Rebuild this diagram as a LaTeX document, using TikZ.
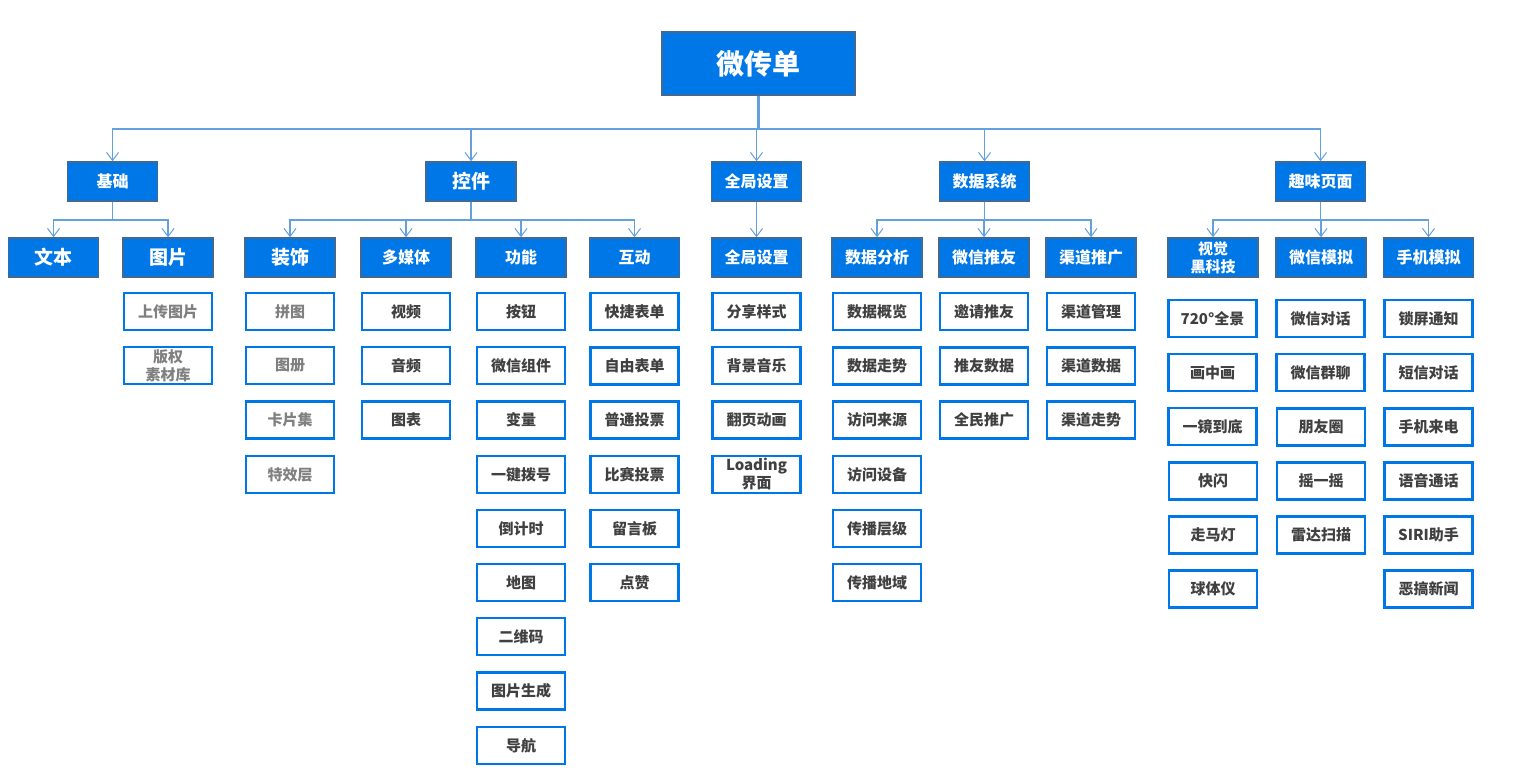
\documentclass[tikz,border=0pt]{standalone}
\usepackage{fontspec}
\setmainfont{Noto Sans CJK SC}
\usetikzlibrary{arrows.meta}
\definecolor{boxblue}{RGB}{0,119,230}
\definecolor{boxedge}{RGB}{65,105,150}
\definecolor{linkblue}{RGB}{100,160,220}
\definecolor{leaftext}{RGB}{64,64,64}
\definecolor{leafgray}{RGB}{128,128,128}
\tikzset{
  hdr/.style={draw=boxedge,line width=1.5pt,fill=boxblue,text=white,font=\bfseries\fontsize{16}{16}\selectfont,
    minimum width=90pt,minimum height=39pt,inner sep=0pt,align=center},
  bighdr/.style={hdr,font=\bfseries\fontsize{19}{19}\selectfont},
  rootbox/.style={hdr,minimum width=193pt,minimum height=63pt,font=\bfseries\fontsize{28}{28}\selectfont},
  leaf/.style={draw=boxblue,line width=2.2pt,fill=white,text=leaftext,font=\bfseries\fontsize{15}{18}\selectfont,
    minimum width=88pt,minimum height=37pt,inner sep=0pt,align=center},
  grayleaf/.style={leaf,text=leafgray},
  conn/.style={draw=linkblue,line width=1.1pt,-{Straight Barb[length=8pt,width=12pt,line width=1pt]}},
  trunk/.style={draw=linkblue,line width=1.1pt}
}
\begin{document}
\begin{tikzpicture}[x=1pt,y=-1pt]
\useasboundingbox (0,0) rectangle (1515,778);
% root
\node[rootbox] (root) at (758.5,63.5) {微传单};
% level 1
\node[hdr] (jc) at (112.5,181.5) {基础};
\node[bighdr] (kj) at (471,181.5) {控件};
\node[hdr] (qj) at (756.5,181.5) {全局设置};
\node[hdr] (sj) at (984.5,181.5) {数据系统};
\node[hdr] (qw) at (1320.5,181.5) {趣味页面};
% level 2
\node[bighdr] (wb) at (53.5,257.5) {文本};
\node[bighdr] (tp) at (168,257.5) {图片};
\node[bighdr] (zs) at (290,257.5) {装饰};
\node[hdr] (dmt) at (406,257.5) {多媒体};
\node[hdr] (gn) at (521,257.5) {功能};
\node[hdr] (hd) at (634.5,257.5) {互动};
\node[hdr] (qj2) at (756.5,257.5) {全局设置};
\node[hdr] (sjfx) at (877,257.5) {数据分析};
\node[hdr] (wxty) at (984,257.5) {微信推友};
\node[hdr] (qdtg) at (1091,257.5) {渠道推广};
\node[hdr,font=\bfseries\fontsize{15}{18}\selectfont] (sjhk) at (1213,257.5) {视觉\\黑科技};
\node[hdr] (wxmn) at (1321,257.5) {微信模拟};
\node[hdr] (sjmn) at (1428.5,257.5) {手机模拟};
% connectors root
\draw[trunk,line width=2.5pt] (root.south) -- (root.south |- 0,129);
\foreach \n in {jc,kj,qj,sj,qw}{
  \draw[conn] (root.south) -- (root.south |- 0,129) -| (\n.north);
}
\foreach \n in {wb,tp}{ \draw[conn] (jc.south) -- (jc.south |- 0,220) -| (\n.north); }
\foreach \n in {zs,dmt,gn,hd}{ \draw[conn] (kj.south) -- (kj.south |- 0,220) -| (\n.north); }
\draw[conn] (qj.south) -- (qj2.north);
\foreach \n in {sjfx,wxty,qdtg}{ \draw[conn] (sj.south) -- (sj.south |- 0,220) -| (\n.north); }
\foreach \n in {sjhk,wxmn,sjmn}{ \draw[conn] (qw.south) -- (qw.south |- 0,220) -| (\n.north); }
% leaves: 图片
\node[grayleaf] (tp1) at (168,311.5) {上传图片};
\node[grayleaf] (tp2) at (168,365.5) {版权\\素材库};
% 装饰
\node[grayleaf] (zs1) at (290,311.5) {拼图};
\node[grayleaf] (zs2) at (290,365.5) {图册};
\node[grayleaf] (zs3) at (290,420) {卡片集};
\node[grayleaf] (zs4) at (290,474.5) {特效层};
% 多媒体
\node[leaf] (dm1) at (406,311.5) {视频};
\node[leaf] (dm2) at (406,365.5) {音频};
\node[leaf] (dm3) at (406,420) {图表};
% 功能
\node[leaf] (gn1) at (521,311.5) {按钮};
\node[leaf] (gn2) at (521,365.5) {微信组件};
\node[leaf] (gn3) at (521,420) {变量};
\node[leaf] (gn4) at (521,474.5) {一键拨号};
\node[leaf] (gn5) at (521,528.5) {倒计时};
\node[leaf] (gn6) at (521,582.5) {地图};
\node[leaf] (gn7) at (521,636.5) {二维码};
\node[leaf] (gn8) at (521,691) {图片生成};
\node[leaf] (gn9) at (521,745.5) {导航};
% 互动
\node[leaf] (hd1) at (634.5,311.5) {快捷表单};
\node[leaf] (hd2) at (634.5,366) {自由表单};
\node[leaf] (hd3) at (634.5,420) {普通投票};
\node[leaf] (hd4) at (634.5,474.5) {比赛投票};
\node[leaf] (hd5) at (634.5,528.5) {留言板};
\node[leaf] (hd6) at (634.5,582.5) {点赞};
% 全局设置
\node[leaf] (qs1) at (756.5,311.5) {分享样式};
\node[leaf] (qs2) at (756.5,365.5) {背景音乐};
\node[leaf] (qs3) at (756.5,420) {翻页动画};
\node[leaf] (qs4) at (756.5,474.5) {Loading\\界面};
% 数据分析
\node[leaf] (fx1) at (877,311.5) {数据概览};
\node[leaf] (fx2) at (877,366) {数据走势};
\node[leaf] (fx3) at (877,420) {访问来源};
\node[leaf] (fx4) at (877,474.5) {访问设备};
\node[leaf] (fx5) at (877,528.5) {传播层级};
\node[leaf] (fx6) at (877,582.5) {传播地域};
% 微信推友
\node[leaf] (ty1) at (984,311.5) {邀请推友};
\node[leaf] (ty2) at (984,366) {推友数据};
\node[leaf] (ty3) at (984,420) {全民推广};
% 渠道推广
\node[leaf] (qd1) at (1091,311.5) {渠道管理};
\node[leaf] (qd2) at (1091,366) {渠道数据};
\node[leaf] (qd3) at (1091,420) {渠道走势};
% 视觉黑科技
\node[leaf] (hk1) at (1212.5,318.5) {720°全景};
\node[leaf] (hk2) at (1212.5,372.5) {画中画};
\node[leaf] (hk3) at (1212.5,426.5) {一镜到底};
\node[leaf] (hk4) at (1213,481) {快闪};
\node[leaf] (hk5) at (1213,535) {走马灯};
\node[leaf] (hk6) at (1213,589) {球体仪};
% 微信模拟
\node[leaf] (wm1) at (1320.5,318.5) {微信对话};
\node[leaf] (wm2) at (1320.5,372.5) {微信群聊};
\node[leaf] (wm3) at (1321,427) {朋友圈};
\node[leaf] (wm4) at (1321,481) {摇一摇};
\node[leaf] (wm5) at (1321,535) {雷达扫描};
% 手机模拟
\node[leaf] (sm1) at (1428.5,318.5) {锁屏通知};
\node[leaf] (sm2) at (1428.5,372.5) {短信对话};
\node[leaf] (sm3) at (1428.5,427) {手机来电};
\node[leaf] (sm4) at (1428.5,481) {语音通话};
\node[leaf] (sm5) at (1428.5,535) {SIRI助手};
\node[leaf] (sm6) at (1428.5,589) {恶搞新闻};
\end{tikzpicture}
\end{document}
